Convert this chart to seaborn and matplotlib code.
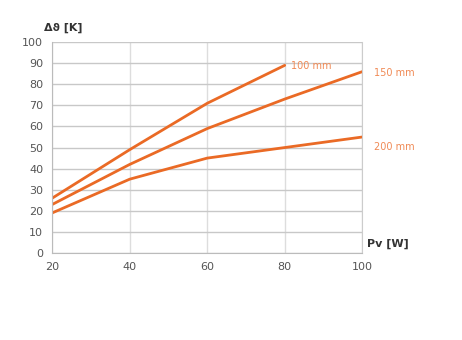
import matplotlib.pyplot as plt
import pandas as pd
import seaborn as sns

# values
power_w = [20, 40, 60, 80, 100]
delta_100mm = [26, 49, 71, 89]
delta_150mm = [23, 42, 59, 73, 86]
delta_200mm = [19, 35, 45, 50, 55]
series_labels = ["100 mm", "150 mm", "200 mm"]


def main():
    rows = []
    for label, values in zip(series_labels, [delta_100mm, delta_150mm, delta_200mm]):
        for p, v in zip(power_w, values):
            rows.append({"series": label, "power": p, "delta": v})
    df = pd.DataFrame(rows)

    sns.set_style("white")
    orange = "#ea6a25"
    fig = plt.figure(figsize=(4.62, 3.4), dpi=100)
    ax = fig.add_axes([0.113, 0.256, 0.671, 0.62])

    sns.lineplot(
        data=df, x="power", y="delta", hue="series",
        palette=[orange] * 3, linewidth=2, legend=False, ax=ax,
    )

    ax.set_xlim(20, 100)
    ax.set_ylim(0, 100)
    ax.set_xticks(power_w)
    ax.set_yticks(range(0, 101, 10))
    ax.grid(True, axis="y", color="#c8c8c8", linewidth=1)
    ax.grid(True, axis="x", color="#dddddd", linewidth=1)
    for side in ["left", "bottom"]:
        ax.spines[side].set_color("#bbbbbb")
    ax.spines["top"].set_visible(False)
    ax.spines["right"].set_color("#cccccc")
    ax.tick_params(labelsize=8, colors="#555555", length=3)
    ax.set_xlabel("")
    ax.set_ylabel("")

    # curve labels at line ends
    ends = df.groupby("series").last()
    ax.text(81.5, ends.loc["100 mm", "delta"] - 0.5, "100 mm", color="#f08a55",
            fontsize=7, va="center")
    ax.text(103, ends.loc["150 mm", "delta"] - 0.5, "150 mm", color="#f08a55",
            fontsize=7, va="center", clip_on=False)
    ax.text(103, ends.loc["200 mm", "delta"] - 4.5, "200 mm", color="#f08a55",
            fontsize=7, va="center", clip_on=False)

    fig.text(0.095, 0.91, "Δϑ [K]", fontsize=8, fontweight="bold", color="#333333")
    fig.text(0.795, 0.275, "Pv [W]", fontsize=8, fontweight="bold", color="#333333")

    fig.savefig("out.png", dpi=100)


if __name__ == "__main__":
    main()
